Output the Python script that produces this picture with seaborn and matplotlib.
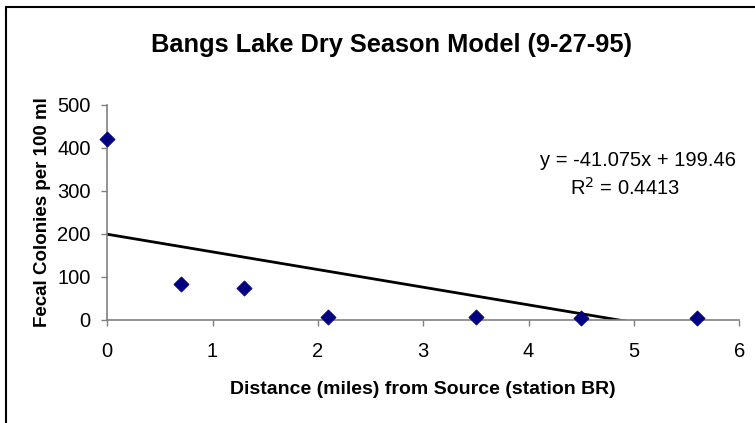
import numpy as np
import pandas as pd
import matplotlib
matplotlib.use("Agg")
import matplotlib.pyplot as plt
import seaborn as sns
from matplotlib.patches import Rectangle

# Data
distance_miles = [0.0, 0.7, 1.3, 2.1, 3.5, 4.5, 5.6]
fecal_colonies = [420, 83, 75, 7, 7, 4, 5]
trend_slope = -41.075
trend_intercept = 199.46
r_squared = 0.4413
x_ticks = [0, 1, 2, 3, 4, 5, 6]
y_ticks = [0, 100, 200, 300, 400, 500]

sns.set_theme(style="white")
plt.rcParams['font.family'] = ['Liberation Sans', 'DejaVu Sans']
plt.rcParams['text.color'] = 'black'
plt.rcParams['axes.labelcolor'] = 'black'

fig = plt.figure(figsize=(7.55, 4.23), dpi=100)
ax = fig.add_axes([0.142, 0.2435, 0.837, 0.5083])

df = pd.DataFrame({"x": distance_miles, "y": fecal_colonies})

# Trendline from reported equation over the data range
x_line = np.array([min(distance_miles), max(distance_miles)])
line_df = pd.DataFrame({"x": x_line, "y": trend_slope * x_line + trend_intercept})
sns.lineplot(data=line_df, x="x", y="y", ax=ax, color="black", linewidth=2.0, zorder=2)

sns.scatterplot(data=df, x="x", y="y", ax=ax, marker="D", s=60, color="#000080",
                edgecolor="#000080", linewidth=0.5, zorder=3, clip_on=False)

ax.set_xlim(0, 6)
ax.set_ylim(0, 500)
ax.set_xticks(x_ticks)
ax.set_yticks(y_ticks)
ax.tick_params(axis="both", labelsize=14.5, labelcolor="black", color="#808080",
               length=4, width=1, direction="out", bottom=True, left=True)
ax.tick_params(axis="x", pad=11.5)
ax.tick_params(axis="y", pad=8)
for s in ["top", "right"]:
    ax.spines[s].set_visible(False)
for s in ["left", "bottom"]:
    ax.spines[s].set_color("#808080")
    ax.spines[s].set_linewidth(1.2)
ax.set_facecolor("white")

ax.set_xlabel("Distance (miles) from Source (station BR)", fontsize=14,
              fontweight="bold", labelpad=14.5, color="black")
ax.set_ylabel("Fecal Colonies per 100 ml", fontsize=13.5, fontweight="bold",
              labelpad=4, color="black")

fig.text(0.518, 0.894, "Bangs Lake Dry Season Model (9-27-95)", ha="center", va="center",
         fontsize=18.3, fontweight="bold", color="black")

ax.text(0.995, 0.74, f"y = {trend_slope}x + {trend_intercept}", transform=ax.transAxes,
        ha="right", va="center", fontsize=14.5, color="black")
ax.text(0.82, 0.615, f"R$^2$ = {r_squared}", transform=ax.transAxes,
        ha="center", va="center", fontsize=14.5, color="black")

fig.patches.append(Rectangle((0.0085, -0.02), 1.05, 0.983 + 0.02, transform=fig.transFigure,
                             fill=False, edgecolor="black", linewidth=1.5))

fig.savefig("out.png", dpi=100)
